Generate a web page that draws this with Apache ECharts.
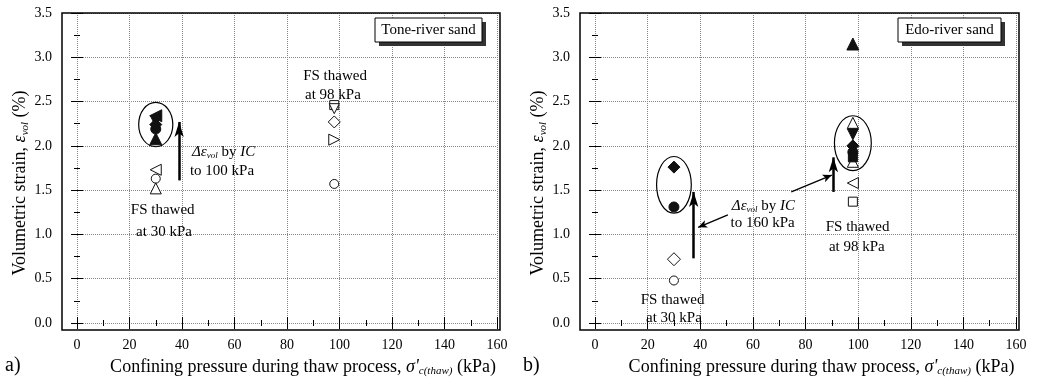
<!DOCTYPE html>
<html><head><meta charset="utf-8">
<script src="https://cdn.jsdelivr.net/npm/echarts@6/dist/echarts.min.js"></script>
<style>html,body{margin:0;padding:0;background:#fff}#c{width:1037px;height:382px}</style>
</head><body><div id="c"></div>
<script>
// ---------- data: panel a) Tone-river sand ----------
const toneOpenCircle   = [[30, 1.63], [98, 1.57]];
const toneOpenTriUp    = [[30, 1.52]];
const toneOpenTriLeft  = [[30, 1.73]];
const toneOpenSquare   = [[98, 2.46]];
const toneOpenTriDown  = [[98, 2.42]];
const toneOpenDiamond  = [[98, 2.27]];
const toneOpenTriRight = [[98, 2.07]];
const toneFillTriLeft  = [[30, 2.34]];
const toneFillTriDown  = [[30, 2.28]];
const toneFillDiamond  = [[30, 2.24]];
const toneFillCircle   = [[30, 2.19]];
const toneFillTriUp    = [[30, 2.08]];
// ---------- data: panel b) Edo-river sand ----------
const edoOpenCircle   = [[30, 0.48]];
const edoOpenDiamond  = [[30, 0.72]];
const edoFillDiamond  = [[30, 1.76], [98, 2.00]];
const edoFillCircle   = [[30, 1.31], [98, 1.93]];
const edoFillTriUp    = [[98, 3.15]];
const edoOpenTriUp    = [[98, 2.26], [98, 1.82]];
const edoFillTriDown  = [[98, 2.13]];
const edoFillSquare   = [[98, 1.87]];
const edoOpenTriLeft  = [[98, 1.58]];
const edoOpenSquare   = [[98, 1.37]];
// ---------- annotations (data units) ----------
const toneArrow       = [[38.9, 1.61], [38.9, 2.27]];
const edoArrowLow     = [[37.5, 0.73], [37.5, 1.48]];
const edoArrowHigh    = [[90.6, 1.48], [90.6, 1.87]];
const edoPointerLeft  = [[50.5, 1.22], [39.2, 1.08]];
const edoPointerRight = [[74.6, 1.48], [90.0, 1.67]];
const toneEllipse     = [30, 2.24, 6.5, 0.25];
const edoEllipse30    = [30, 1.56, 6.6, 0.32];
const edoEllipse98    = [98, 2.03, 7.0, 0.31];
const xRange = [0, 160];
const yRange = [0, 3.5];
const panelTitles = ['Tone-river sand', 'Edo-river sand'];
const panelLetters = ['a)', 'b)'];

const FONT = 'Liberation Serif';
const TOP = 13, H = 310, FRAME_B = 330;
const panels = [
  {left: 77, width: 420, frameL: 62, frameR: 500},
  {left: 595, width: 421, frameL: 580, frameR: 1019}
];

const chart = echarts.init(document.getElementById('c'));

const subRich = {
  n: {fontFamily: FONT, fontSize: 18, color: '#000'},
  i: {fontFamily: FONT, fontSize: 18, fontStyle: 'italic', color: '#000'},
  sub: {fontFamily: FONT, fontSize: 11, fontStyle: 'italic', color: '#000', padding: [9, 0, 0, 0]}
};

const xAxes = [], yAxes = [], grids = [];
panels.forEach((p, gi) => {
  grids.push({left: p.left, top: TOP, width: p.width, height: H});
  const tick = {inside: true, length: 6, lineStyle: {color: '#000', width: 1}};
  const minor = {show: true, splitNumber: 2, length: 3, lineStyle: {color: '#000', width: 1}};
  const lab = {fontFamily: FONT, fontSize: 14, color: '#000'};
  xAxes.push({
    gridIndex: gi, type: 'value', min: xRange[0], max: xRange[1], interval: 20, position: 'bottom', offset: FRAME_B - TOP - H,
    axisLine: {show: false}, axisTick: tick, minorTick: minor,
    axisLabel: Object.assign({margin: 8}, lab),
    splitLine: {show: true, lineStyle: {type: 'dotted', color: '#888', width: 1}},
    name: '{n|Confining pressure during thaw process, }{i|σ\'}{sub|c(thaw)}{n| (kPa)}',
    nameLocation: 'middle', nameGap: 27,
    nameTextStyle: {rich: subRich, padding: [0, 0, 0, 32]}
  });
  xAxes.push({
    gridIndex: gi, type: 'value', min: xRange[0], max: xRange[1], interval: 20, position: 'top', offset: 0,
    axisLine: {show: false}, axisTick: tick, minorTick: minor, axisLabel: {show: false}, splitLine: {show: false}
  });
  yAxes.push({
    gridIndex: gi, type: 'value', min: yRange[0], max: yRange[1], interval: 0.5, position: 'left', offset: p.left - p.frameL,
    axisLine: {show: false}, axisTick: tick, minorTick: minor,
    axisLabel: Object.assign({margin: 10, formatter: v => v.toFixed(1)}, lab),
    splitLine: {show: true, lineStyle: {type: 'dotted', color: '#888', width: 1}},
    name: '{n|Volumetric strain, }{i|ε}{sub|vol}{n| (%)}',
    nameLocation: 'middle', nameGap: 30, nameRotate: 90,
    nameTextStyle: {rich: subRich, padding: [0, 30, 0, 0]}
  });
  yAxes.push({
    gridIndex: gi, type: 'value', min: yRange[0], max: yRange[1], interval: 0.5, position: 'right', offset: p.frameR - p.left - p.width,
    axisLine: {show: false}, axisTick: tick, minorTick: minor, axisLabel: {show: false}, splitLine: {show: false}
  });
});

const series = [];
function sc(data, gi, shape, filled, rot, size) {
  series.push({
    type: 'scatter', xAxisIndex: gi * 2, yAxisIndex: gi * 2, data: data,
    symbol: shape, symbolRotate: rot || 0, symbolSize: size || 10,
    itemStyle: {color: filled ? '#111' : '#fff', borderColor: '#111', borderWidth: 1, opacity: 1},
    z: 5, silent: true, animation: false
  });
}
// panel a
sc(toneOpenCircle, 0, 'circle', false, 0, 9);
sc(toneOpenTriUp, 0, 'triangle', false, 0, 11);
sc(toneOpenTriLeft, 0, 'triangle', false, 90, 11);
sc(toneOpenSquare, 0, 'rect', false, 0, 9);
sc(toneOpenTriDown, 0, 'triangle', false, 180, 10);
sc(toneOpenDiamond, 0, 'diamond', false, 0, 12);
sc(toneOpenTriRight, 0, 'triangle', false, -90, 11);
sc(toneFillTriUp, 0, 'triangle', true, 0, 12);
sc(toneFillCircle, 0, 'circle', true, 0, 10);
sc(toneFillDiamond, 0, 'diamond', true, 0, 12);
sc(toneFillTriDown, 0, 'triangle', true, 180, 11);
sc(toneFillTriLeft, 0, 'triangle', true, 90, 12);
// panel b
sc(edoOpenCircle, 1, 'circle', false, 0, 9);
sc(edoOpenDiamond, 1, 'diamond', false, 0, 13);
sc(edoFillDiamond, 1, 'diamond', true, 0, 12);
sc(edoFillCircle, 1, 'circle', true, 0, 10);
sc(edoFillTriUp, 1, 'triangle', true, 0, 12);
sc(edoOpenTriUp, 1, 'triangle', false, 0, 11);
sc(edoFillTriDown, 1, 'triangle', true, 180, 11);
sc(edoFillSquare, 1, 'rect', true, 0, 9);
sc(edoOpenTriLeft, 1, 'triangle', false, 90, 11);
sc(edoOpenSquare, 1, 'rect', false, 0, 9);

function arrows(gi, list, width, head) {
  series.push({
    type: 'scatter', xAxisIndex: gi * 2, yAxisIndex: gi * 2, data: [], silent: true, animation: false,
    markLine: {
      silent: true, animation: false, symbol: ['none', 'arrow'], symbolSize: head,
      label: {show: false}, lineStyle: {color: '#000', width: width, type: 'solid'},
      data: list.map(a => [{coord: a[0]}, {coord: a[1]}])
    }
  });
}
arrows(0, [toneArrow], 2.5, [7, 15]);
arrows(1, [edoArrowLow, edoArrowHigh], 2.5, [7, 15]);
arrows(1, [edoPointerLeft, edoPointerRight], 1.3, [6, 9]);

chart.setOption({
  backgroundColor: '#fff', animation: false,
  grid: grids, xAxis: xAxes, yAxis: yAxes, series: series
});

// ---------- graphic annotations ----------
const px = (gi, v) => chart.convertToPixel({xAxisIndex: gi * 2, yAxisIndex: gi * 2}, v);
const g = [];
panels.forEach((p, gi) => {
  g.push({type: 'rect', shape: {x: p.frameL, y: TOP, width: p.frameR - p.frameL, height: FRAME_B - TOP},
    style: {fill: 'none', stroke: '#000', lineWidth: 1.5}, z: 10, silent: true});
  const bw = gi === 0 ? 107 : 103;
  const bx = p.frameR - 18 - bw, by = 18;
  g.push({type: 'rect', shape: {x: bx + 4, y: by + 4, width: bw, height: 24}, style: {fill: '#333'}, z: 11});
  g.push({type: 'rect', shape: {x: bx, y: by, width: bw, height: 24}, style: {fill: '#fff', stroke: '#000', lineWidth: 1}, z: 12});
  g.push({type: 'text', x: bx + bw / 2, y: by + 12, style: {text: panelTitles[gi], font: '15px "' + FONT + '"', fill: '#000', align: 'center', verticalAlign: 'middle'}, z: 13});
  g.push({type: 'text', x: p.frameL - 57, y: 366, style: {text: panelLetters[gi], font: '20px "' + FONT + '"', fill: '#000', align: 'left', verticalAlign: 'middle'}, z: 13});
});
function ell(gi, e) {
  const c = px(gi, [e[0], e[1]]);
  const rx = px(gi, [e[0] + e[2], e[1]])[0] - c[0];
  const ry = c[1] - px(gi, [e[0], e[1] + e[3]])[1];
  g.push({type: 'ellipse', shape: {cx: c[0], cy: c[1], rx: rx, ry: ry}, style: {fill: 'none', stroke: '#000', lineWidth: 1.2}, z: 6, silent: true});
}
ell(0, toneEllipse); ell(1, edoEllipse30); ell(1, edoEllipse98);

const annRich = {
  n: {fontFamily: FONT, fontSize: 15, color: '#000'},
  i: {fontFamily: FONT, fontSize: 15, fontStyle: 'italic', color: '#000'},
  sub: {fontFamily: FONT, fontSize: 9, fontStyle: 'italic', color: '#000', padding: [8, 0, 0, 0]}
};
function txt(gi, pos, text, align) {
  const c = px(gi, pos);
  g.push({type: 'text', x: c[0], y: c[1], style: {text: text, rich: annRich, font: '15px "' + FONT + '"', fill: '#000', align: align || 'center', verticalAlign: 'middle'}, z: 13, silent: true});
}
// panel a texts
txt(0, [20.5, 1.28], '{n|FS thawed}', 'left');
txt(0, [22.5, 1.03], '{n|at 30 kPa}', 'left');
txt(0, [98.3, 2.79], '{n|FS thawed}');
txt(0, [97.5, 2.57], '{n|at 98 kPa}');
txt(0, [43.8, 1.93], '{i|Δε}{sub|vol}{n| by }{i|IC}', 'left');
txt(0, [43.0, 1.72], '{n|to 100 kPa}', 'left');
// panel b texts
txt(1, [29.5, 0.26], '{n|FS thawed}');
txt(1, [30.0, 0.06], '{n|at 30 kPa}');
txt(1, [99.8, 1.08], '{n|FS thawed}');
txt(1, [99.5, 0.86], '{n|at 98 kPa}');
txt(1, [52.0, 1.32], '{i|Δε}{sub|vol}{n| by }{i|IC}', 'left');
txt(1, [51.5, 1.13], '{n|to 160 kPa}', 'left');

chart.setOption({graphic: g});
</script></body></html>
